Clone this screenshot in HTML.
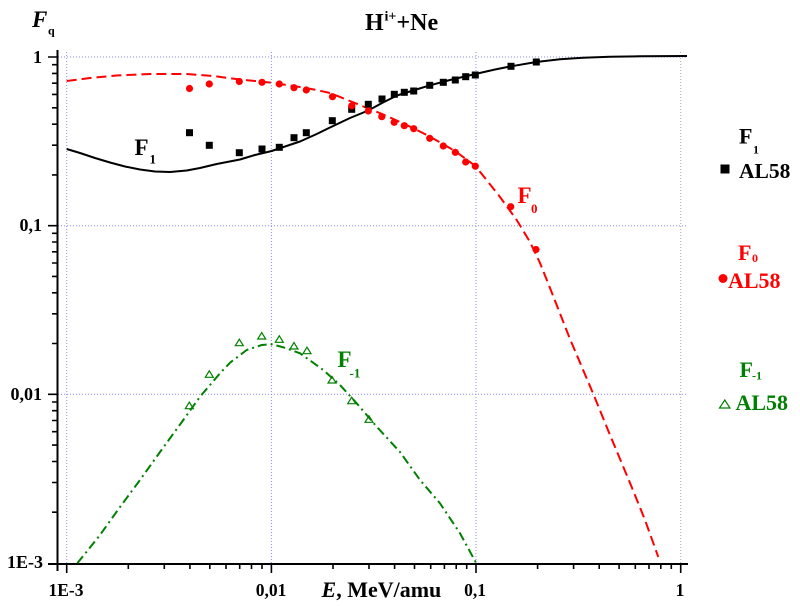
<!DOCTYPE html>
<html>
<head>
<meta charset="utf-8">
<style>
  html,body{margin:0;padding:0;background:#fff;}
  svg{display:block;}
  text{font-family:"Liberation Serif","DejaVu Serif",serif;font-weight:bold;}
</style>
</head>
<body>
<svg width="800" height="606" viewBox="0 0 800 606" xmlns="http://www.w3.org/2000/svg">
  <rect x="0" y="0" width="800" height="606" fill="#fff"/>

  <!-- grid -->
  <g stroke="#8a8aff" stroke-width="1" stroke-dasharray="1 2" fill="none">
    <path d="M66.7 52 V563 M271.4 52 V563 M476 52 V563"/>
    <path d="M58 57 H688 M58 225.7 H688 M58 394.3 H688"/>
  </g>
  <path d="M680.7 52 V563" stroke="#aaaaaa" stroke-width="1" stroke-dasharray="1 2" fill="none"/>

  <!-- axes -->
  <g stroke="#000" fill="none">
    <path d="M57.5 50 V571" stroke-width="2"/>
    <path d="M48 564 H688" stroke-width="2"/>
    <!-- y major ticks -->
    <path stroke-width="1.6" d="M48 57 H58 M48 225.7 H58 M48 394.3 H58"/>
    <!-- y minor ticks -->
    <path stroke-width="1.6" d="M52 64.7H58M52 73.4H58M52 83.2H58M52 94.4H58M52 107.8H58M52 124.2H58M52 145.2H58M52 174.9H58
      M52 233.3H58M52 242H58M52 251.8H58M52 263H58M52 276.4H58M52 292.8H58M52 313.8H58M52 343.5H58
      M52 402H58M52 410.7H58M52 420.5H58M52 431.7H58M52 445.1H58M52 461.5H58M52 482.5H58M52 512.2H58"/>
    <!-- x major ticks -->
    <path stroke-width="1.6" d="M66.7 564V573M271.4 564V573M476 564V573M680.7 564V573"/>
    <!-- x minor ticks -->
    <path stroke-width="1.6" d="M128.3 564V569M164.3 564V569M189.9 564V569M209.8 564V569M226 564V569M239.7 564V569M251.5 564V569M262 564V569
      M333 564V569M369 564V569M394.6 564V569M414.5 564V569M430.7 564V569M444.4 564V569M456.2 564V569M466.7 564V569
      M537.6 564V569M573.6 564V569M599.2 564V569M619.1 564V569M635.3 564V569M649 564V569M660.8 564V569M671.3 564V569"/>
  </g>

  <!-- tick labels -->
  <g font-size="18" text-anchor="end" fill="#000">
    <text x="42" y="63">1</text>
    <text x="42" y="231">0,1</text>
    <text x="42" y="400">0,01</text>
    <text x="43" y="568">1E-3</text>
  </g>
  <g font-size="17.5" text-anchor="middle" fill="#000">
    <text x="66" y="596">1E-3</text>
    <text x="271" y="596">0,01</text>
    <text x="475" y="596">0,1</text>
    <text x="680" y="596">1</text>
  </g>

  <!-- axis titles -->
  <text x="321.5" y="597" font-size="22" fill="#000"><tspan font-style="italic">E</tspan>, MeV/amu</text>
  <text x="32" y="27" font-size="23" font-style="italic" fill="#000">F</text>
  <text x="48" y="34.5" font-size="12" fill="#000">q</text>

  <!-- title -->
  <text x="365" y="30" font-size="24" fill="#000">H</text>
  <text x="384.5" y="20.5" font-size="14" fill="#000">i+</text>
  <text x="396.5" y="30" font-size="24" fill="#000">+Ne</text>

  <!-- F1 curve -->
  <polyline fill="none" stroke="#000" stroke-width="2" stroke-linejoin="round"
    points="66.7,149 80,153 95,158 110,162.5 125,166.5 140,169.5 155,171.5 170,172 186.7,170.5 200,168 216.7,164 240,159.5 255,155 271.7,151 285,146.5 300,141.5 316.7,134 330,127.5 350,118 368.3,110.5 383,102.5 397,95.5 413,90.5 430,85.3 450,80 475.3,74 495,69.5 511,66.3 536.3,62 560,59.2 583,57.7 610,56.8 640,56.3 687,56"/>

  <!-- F0 curve -->
  <polyline fill="none" stroke="#ff0000" stroke-width="2" stroke-dasharray="10 5"
    points="66.7,81 90,78 116.7,75.5 150,74 186.7,74 213,76 240,79.5 271.7,82.7 300,87 316.7,90 330,93 350,101 363.3,106.5 383.3,114.5 396.7,120.5 413,128 430,136.7 455,151 475.3,166 485,178 500,197 516.7,220 530,242 540,263 550,288 570,339 593.3,394 610,435 631.7,487 645,520 658.3,557"/>

  <!-- F-1 curve -->
  <polyline fill="none" stroke="#008000" stroke-width="2" stroke-dasharray="9 4 2 4"
    points="77.3,563.3 100,535 120,507 140,480 160,452 183.3,420 200,396.7 220,373.3 230,362.7 246.7,350 261.7,345 271.7,344.3 283.3,347.3 300,353.3 323.3,370 340,385 356.7,403.3 376.7,426.7 400,452 420,480 440,503.3 460,533.3 476,562.7"/>

  <!-- black squares -->
  <g fill="#000">
    <rect x="186" y="129.2" width="7" height="7"/>
    <rect x="205.8" y="141.8" width="7" height="7"/>
    <rect x="235.8" y="149.2" width="7" height="7"/>
    <rect x="258.5" y="145.5" width="7" height="7"/>
    <rect x="275.8" y="143.8" width="7" height="7"/>
    <rect x="290.5" y="134.2" width="7" height="7"/>
    <rect x="302.8" y="129.2" width="7" height="7"/>
    <rect x="328.8" y="117.2" width="7" height="7"/>
    <rect x="348.2" y="105.8" width="7" height="7"/>
    <rect x="364.8" y="100.8" width="7" height="7"/>
    <rect x="378.5" y="95.5" width="7" height="7"/>
    <rect x="390.8" y="90.8" width="7" height="7"/>
    <rect x="400.8" y="88.8" width="7" height="7"/>
    <rect x="410.2" y="87.5" width="7" height="7"/>
    <rect x="426.2" y="81.8" width="7" height="7"/>
    <rect x="439.8" y="78.8" width="7" height="7"/>
    <rect x="451.8" y="76.5" width="7" height="7"/>
    <rect x="462.2" y="73.2" width="7" height="7"/>
    <rect x="471.8" y="71.5" width="7" height="7"/>
    <rect x="507.5" y="62.8" width="7" height="7"/>
    <rect x="532.8" y="58.5" width="7" height="7"/>
  </g>

  <!-- red circles -->
  <g fill="#ff0000">
    <circle cx="189.5" cy="88.5" r="3.6"/>
    <circle cx="209.3" cy="84" r="3.6"/>
    <circle cx="239.3" cy="81.5" r="3.6"/>
    <circle cx="262" cy="82.3" r="3.6"/>
    <circle cx="279.3" cy="84" r="3.6"/>
    <circle cx="294" cy="87.7" r="3.6"/>
    <circle cx="306.3" cy="90" r="3.6"/>
    <circle cx="332.5" cy="96.7" r="3.6"/>
    <circle cx="351.8" cy="105.8" r="3.6"/>
    <circle cx="368.3" cy="111" r="3.6"/>
    <circle cx="381.8" cy="116.7" r="3.6"/>
    <circle cx="394.2" cy="122.3" r="3.6"/>
    <circle cx="404.3" cy="125.7" r="3.6"/>
    <circle cx="413.7" cy="128.7" r="3.6"/>
    <circle cx="429.7" cy="138.3" r="3.6"/>
    <circle cx="443.3" cy="146" r="3.6"/>
    <circle cx="455.3" cy="152.3" r="3.6"/>
    <circle cx="465.7" cy="162" r="3.6"/>
    <circle cx="475.3" cy="166.2" r="3.6"/>
    <circle cx="510.7" cy="206.7" r="3.6"/>
    <circle cx="536" cy="249.5" r="3.6"/>
  </g>

  <!-- green triangles -->
  <g fill="none" stroke="#008000" stroke-width="1.2">
    <path d="M185.3 408.7 L193.3 408.7 L189.3 402.2 Z"/>
    <path d="M205.3 377.3 L213.3 377.3 L209.3 370.8 Z"/>
    <path d="M235.3 345.7 L243.3 345.7 L239.3 339.2 Z"/>
    <path d="M257.7 339 L265.7 339 L261.7 332.5 Z"/>
    <path d="M275.3 342.3 L283.3 342.3 L279.3 335.8 Z"/>
    <path d="M290 349 L298 349 L294 342.5 Z"/>
    <path d="M303 353.7 L311 353.7 L307 347.2 Z"/>
    <path d="M328 383 L336 383 L332 376.5 Z"/>
    <path d="M347.7 403.7 L355.7 403.7 L351.7 397.2 Z"/>
    <path d="M365 422.3 L373 422.3 L369 415.8 Z"/>
  </g>

  <!-- curve labels -->
  <text x="134.5" y="155" font-size="23" fill="#000">F</text>
  <text x="149.5" y="163.5" font-size="13" fill="#000">1</text>
  <text x="517.5" y="203" font-size="23" fill="#ff0000">F</text>
  <text x="531" y="213" font-size="13" fill="#ff0000">0</text>
  <text x="337.5" y="367" font-size="23" fill="#008000">F</text>
  <text x="349.5" y="377.5" font-size="13" fill="#008000">-1</text>

  <!-- legend -->
  <text x="739" y="143.5" font-size="22" fill="#000">F</text>
  <text x="753" y="153.5" font-size="12" fill="#000">1</text>
  <rect x="720.5" y="164.5" width="9" height="9" fill="#000"/>
  <text x="739" y="178" font-size="21.5" fill="#000">AL58</text>

  <text x="738" y="260" font-size="22" fill="#ff0000">F</text>
  <text x="752" y="262" font-size="12" fill="#ff0000">0</text>
  <circle cx="723" cy="278.5" r="4.5" fill="#ff0000"/>
  <text x="728" y="288" font-size="22" fill="#ff0000">AL58</text>

  <text x="739.5" y="377" font-size="22" fill="#008000">F</text>
  <text x="752" y="379.5" font-size="12" fill="#008000">-1</text>
  <path d="M719.5 408 L730 408 L724.8 400 Z" fill="none" stroke="#008000" stroke-width="1.2"/>
  <text x="735.5" y="410" font-size="22" fill="#008000">AL58</text>
</svg>
</body>
</html>
